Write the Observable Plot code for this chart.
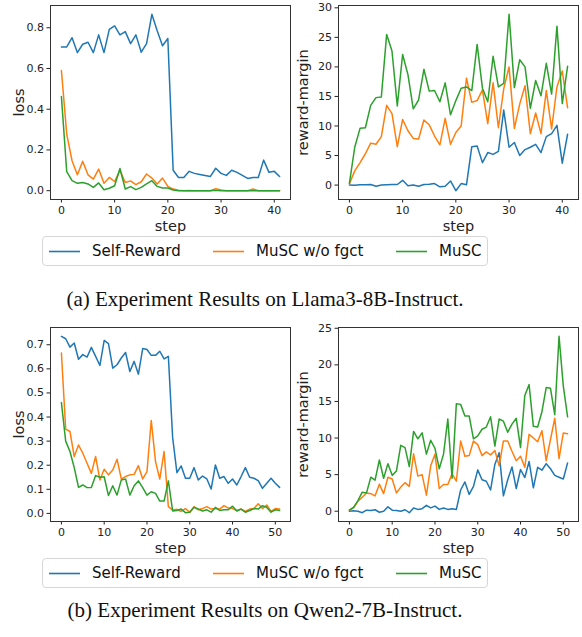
<!DOCTYPE html>
<html>
<head>
<meta charset="utf-8">
<script src="https://cdn.jsdelivr.net/npm/d3@7"></script>
<script src="https://cdn.jsdelivr.net/npm/@observablehq/plot@0.6"></script>
<style>
  body { margin: 0; background: #fff; }
  #wrap { position: relative; width: 582px; height: 637px; background: #fff; overflow: hidden; }
  .panel { position: absolute; }
  .panel svg [aria-label="x-axis label"], .panel svg [aria-label="y-axis label"] { font-size: 14.5px; }
  .legend { position: absolute; left: 42px; width: 446px; height: 30px; box-sizing: border-box;
            border: 1px solid #d6d6d6; border-radius: 4px; background: #fff;
            font-family: "DejaVu Sans", sans-serif; font-size: 15px; color: #111; }
  .legend .item { position: absolute; top: 0; height: 28px; line-height: 28px; white-space: nowrap; }
  .legend svg { position: absolute; left: 0; top: 0; }
  .legend .lbl { position: absolute; left: 43px; top: 0; }
  .caption { position: absolute; left: 0; width: 530px; text-align: center;
             font-family: "Liberation Serif", "Times New Roman", serif; font-size: 21px; color: #111; }
</style>
</head>
<body>
<div id="wrap"></div>
<script>
// ---- data ----
const methods = ["Self-Reward", "MuSC w/o fgct", "MuSC"];
const colors = ["#1f77b4", "#ff7f0e", "#2ca02c"];

const llamaSelfLoss = [0.706,0.706,0.751,0.678,0.719,0.729,0.678,0.765,0.678,0.792,0.809,0.765,0.781,0.722,0.765,0.68,0.722,0.866,0.785,0.712,0.747,
  0.10,0.065,0.065,0.095,0.085,0.08,0.075,0.07,0.11,0.085,0.075,0.10,0.09,0.075,0.06,0.065,0.065,0.15,0.09,0.095,0.07];
const llamaNoFgctLoss = [0.59,0.278,0.147,0.078,0.144,0.078,0.057,0.106,0.036,0.065,0.045,0.10,0.04,0.048,0.03,0.044,0.082,0.062,0.033,0.062,
  0.021,0.008,0.002,0,0.001,0,0,0,0,0.01,0.003,0,0,0,0,0,0.008,0,0,0,0,0];
const llamaMuscLoss = [0.462,0.093,0.049,0.036,0.04,0.033,0.016,0.038,0.005,0.012,0.024,0.109,0.008,0.02,0.005,0.016,0.033,0.049,0.021,0.013,
  0.013,0.003,0,0,0,0,0,0,0,0.002,0,0,0,0,0,0,0,0,0,0,0,0];

const llamaSelfRM = [0.0,-0.05,0.05,0.05,0.1,-0.2,0.0,0.05,0.1,0.1,0.8,-0.1,0.0,-0.2,0.1,0.15,0.25,-0.3,-0.2,0.7,
  -0.95,0.25,0.05,6.5,6.6,3.8,5.5,5.2,5.7,12.7,6.4,7.2,5.0,6.0,6.4,6.9,5.5,8.2,8.7,10.1,3.7,8.6];
const llamaNoFgctRM = [0.2,2.4,3.8,5.3,7.1,6.9,8.2,13.5,12.1,6.5,11.1,9.2,7.9,7.8,11.0,10.2,8.3,6.8,11.3,6.9,
  8.9,10.0,18.1,14.0,14.3,16.1,10.4,17.3,9.7,16.3,20.0,9.6,13.7,16.8,8.7,12.2,8.7,16.0,9.5,16.6,19.3,13.1];
const llamaMuscRM = [0.3,6.4,9.6,9.7,13.5,14.8,14.9,25.5,22.7,13.4,22.1,18.7,12.9,14.4,19.6,15.9,16.0,14.1,17.3,11.9,
  14.3,16.4,16.6,16.0,23.8,16.4,14.1,21.8,16.6,17.2,28.9,16.5,21.2,20.0,13.0,17.7,15.1,20.6,15.4,26.9,13.8,20.1];

const qwenSelfLoss = [0.735,0.725,0.69,0.707,0.64,0.659,0.649,0.689,0.652,0.614,0.718,0.705,0.603,0.617,0.645,0.668,0.589,0.631,0.578,0.684,
  0.68,0.656,0.656,0.673,0.641,0.652,0.315,0.169,0.197,0.146,0.146,0.19,0.139,0.155,0.143,0.101,0.201,0.146,0.153,0.125,
  0.143,0.118,0.153,0.19,0.15,0.146,0.136,0.104,0.125,0.146,0.125,0.108];
const qwenNoFgctLoss = [0.666,0.35,0.34,0.236,0.284,0.25,0.208,0.166,0.236,0.139,0.183,0.16,0.18,0.225,0.143,0.153,0.16,0.162,0.198,0.143,
  0.173,0.386,0.215,0.143,0.257,0.028,0.014,0.017,0.008,0.02,0.005,0.028,0.015,0.02,0.028,0.018,0.02,0.018,0.032,0.022,
  0.02,0.012,0.018,0.008,0.018,0.02,0.04,0.02,0.035,0.008,0.02,0.018];
const qwenMuscLoss = [0.46,0.30,0.257,0.19,0.108,0.118,0.107,0.108,0.157,0.15,0.152,0.074,0.115,0.076,0.139,0.143,0.076,0.115,0.135,0.107,
  0.076,0.09,0.083,0.051,0.051,0.135,0.01,0.012,0.018,0.003,0.005,0.025,0.018,0.01,0.015,0.005,0.025,0.012,0.015,0.015,
  0.03,0.01,0.018,0.005,0.012,0.02,0.018,0.032,0.025,0.005,0.015,0.012];

const qwenSelfRM = [0.0,0.05,0.0,-0.2,0.14,0.1,0.2,-0.14,0.0,0.6,0.14,0.1,0.0,0.2,-0.2,0.45,0.25,0.35,0.8,0.45,
  0.7,0.25,0.45,0.25,0.35,0.25,2.9,4.0,2.3,3.4,5.65,4.3,4.1,2.9,6.4,8.0,2.1,4.3,6.05,3.1,
  5.7,4.6,6.8,3.2,6.0,5.6,6.5,5.8,4.9,4.65,4.4,6.6];
const qwenNoFgctRM = [0.14,0.45,1.37,1.9,2.5,2.4,2.1,3.7,2.4,4.65,4.4,2.5,3.3,3.9,3.4,7.85,4.8,5.0,2.2,6.2,
  7.8,3.1,3.65,3.65,5.1,4.1,9.6,7.5,7.6,9.6,9.1,7.6,8.1,7.7,8.3,6.2,9.6,9.6,8.2,6.9,
  7.5,6.0,10.5,10.0,9.5,11.0,6.9,9.8,12.7,7.2,10.7,10.6];
const qwenMuscRM = [0.14,0.55,1.46,2.6,2.5,4.65,4.24,7.0,4.5,6.5,4.9,5.5,9.0,8.7,6.1,10.9,9.9,10.7,7.8,9.7,
  8.6,5.8,7.8,12.6,4.5,14.7,14.6,13.0,13.0,9.9,10.3,11.2,11.5,12.9,8.9,12.6,12.3,10.8,11.9,12.7,
  8.7,15.8,17.3,11.6,11.5,13.6,16.9,16.8,13.2,23.9,17.1,12.9];

const llamaXTicks = [0, 10, 20, 30, 40];
const qwenXTicks = [0, 10, 20, 30, 40, 50];
const llamaLossTicks = [0, 0.2, 0.4, 0.6, 0.8];
const llamaRMTicks = [0, 5, 10, 15, 20, 25, 30];
const qwenLossTicks = [0, 0.1, 0.2, 0.3, 0.4, 0.5, 0.6, 0.7];
const qwenRMTicks = [0, 5, 10, 15, 20, 25];

const captionA = "(a) Experiment Results on Llama3-8B-Instruct.";
const captionB = "(b) Experiment Results on Qwen2-7B-Instruct.";

// ---- helpers ----
function toLong(seriesList) {
  const rows = [];
  seriesList.forEach((vals, i) => vals.forEach((v, step) => rows.push({step, value: v, method: methods[i]})));
  return rows;
}

function padDomain(vals, frac) {
  const [lo, hi] = d3.extent(vals);
  const p = (hi - lo) * frac;
  return [lo - p, hi + p];
}

function panel({series, xTicks, yTicks, yFormat, ylabel, ylabelOffset, marginLeft, marginRight}) {
  const data = toLong(series);
  const n = series[0].length;
  return Plot.plot({
    width: 292,
    height: 236,
    marginTop: 5,
    marginBottom: 37,
    marginLeft,
    marginRight,
    style: {fontFamily: "DejaVu Sans, sans-serif", fontSize: "11px", color: "#222", background: "none", overflow: "visible"},
    x: {domain: padDomain([0, n - 1], 0.05)},
    y: {domain: padDomain(data.map(d => d.value), 0.05)},
    color: {domain: methods, range: colors},
    marks: [
      Plot.axisX({ticks: xTicks, tickSize: 3.5, tickPadding: 3, label: "step", labelAnchor: "center", labelArrow: "none", labelOffset: 31}),
      Plot.axisY({ticks: yTicks, tickFormat: yFormat, tickSize: 3.5, tickPadding: 3, label: ylabel, labelAnchor: "center", labelArrow: "none", labelOffset: ylabelOffset}),
      Plot.line(data, {x: "step", y: "value", z: "method", stroke: "method", strokeWidth: 1.5}),
      Plot.frame({stroke: "#333", strokeWidth: 1})
    ]
  });
}

function place(node, left, top) {
  const div = document.createElement("div");
  div.className = "panel";
  div.style.left = left + "px";
  div.style.top = top + "px";
  div.appendChild(node);
  wrap.appendChild(div);
}

function legend(top) {
  const lg = document.createElement("div");
  lg.className = "legend";
  lg.style.top = top + "px";
  const lefts = [6, 170, 353];
  methods.forEach((m, i) => {
    const it = document.createElement("div");
    it.className = "item";
    it.style.left = lefts[i] + "px";
    const sw = d3.create("svg").attr("width", 32).attr("height", 28);
    sw.append("line").attr("x1", 0).attr("x2", 31).attr("y1", 14.5).attr("y2", 14.5)
      .attr("stroke", colors[i]).attr("stroke-width", 1.6);
    const lb = document.createElement("div");
    lb.className = "lbl";
    lb.textContent = m;
    it.appendChild(sw.node());
    it.appendChild(lb);
    lg.appendChild(it);
  });
  wrap.appendChild(lg);
}

function caption(text, top) {
  const c = document.createElement("div");
  c.className = "caption";
  c.style.top = top + "px";
  c.textContent = text;
  wrap.appendChild(c);
}

const wrap = document.getElementById("wrap");
const f1 = d3.format(".1f");
const f0 = d3.format("d");

place(panel({series: [llamaSelfLoss, llamaNoFgctLoss, llamaMuscLoss], xTicks: llamaXTicks, yTicks: llamaLossTicks, yFormat: f1,
  ylabel: "loss", ylabelOffset: 37, marginLeft: 50, marginRight: 2}), 0, 0);
place(panel({series: [llamaSelfRM, llamaNoFgctRM, llamaMuscRM], xTicks: llamaXTicks, yTicks: llamaRMTicks, yFormat: f0,
  ylabel: "reward-margin", ylabelOffset: 41, marginLeft: 48, marginRight: 4}), 290, 0);
place(panel({series: [qwenSelfLoss, qwenNoFgctLoss, qwenMuscLoss], xTicks: qwenXTicks, yTicks: qwenLossTicks, yFormat: f1,
  ylabel: "loss", ylabelOffset: 37, marginLeft: 50, marginRight: 2}), 0, 322);
place(panel({series: [qwenSelfRM, qwenNoFgctRM, qwenMuscRM], xTicks: qwenXTicks, yTicks: qwenRMTicks, yFormat: f0,
  ylabel: "reward-margin", ylabelOffset: 41, marginLeft: 48, marginRight: 4}), 290, 322);

legend(236);
legend(558);
caption(captionA, 287);
caption(captionB, 598);
</script>
</body>
</html>
